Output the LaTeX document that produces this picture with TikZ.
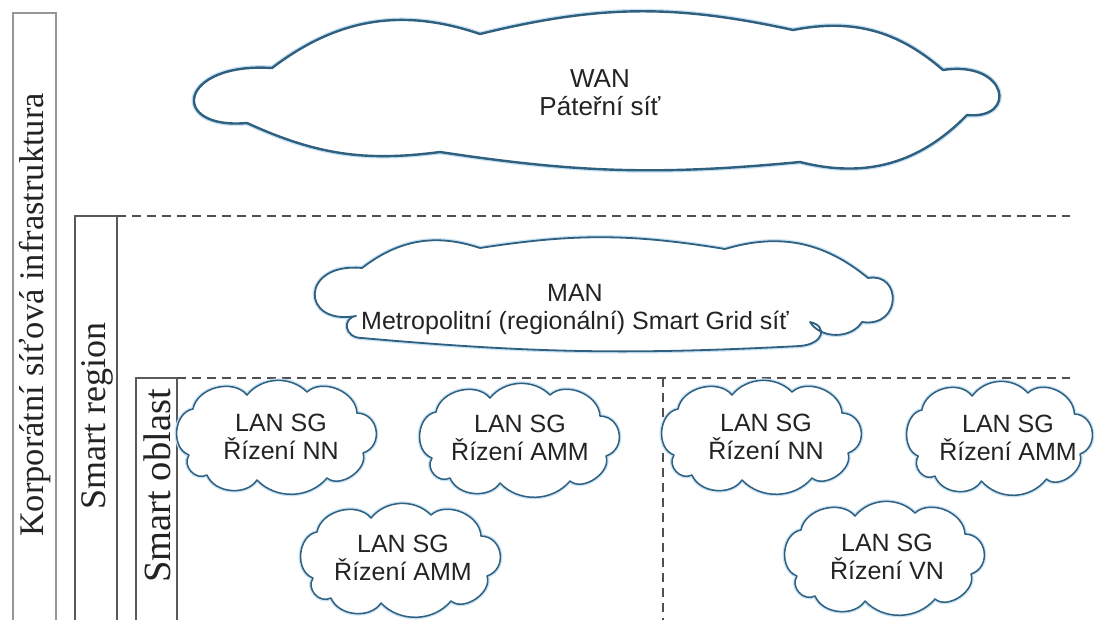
\documentclass[tikz,border=0pt]{standalone}
\usepackage{fontspec}
\setmainfont{Liberation Serif}
\newfontfamily\cloudfont{Liberation Sans}
\definecolor{cloudblue}{RGB}{48,96,128}
\definecolor{cloudhalo}{RGB}{200,226,244}
\definecolor{framegray}{RGB}{150,150,150}
\definecolor{boxgray}{RGB}{90,90,90}
\definecolor{dashgray}{RGB}{80,80,80}
\definecolor{textdark}{RGB}{35,35,35}
\tikzset{
  cloudedge/.style={draw=cloudblue, line width=#1, fill=white, line join=round,
    preaction={draw=cloudhalo, line width=#1+2.5pt}},
  cloudedge/.default=1.5pt,
  cloudtext/.style={font=\cloudfont\fontsize{25}{28}\selectfont, align=center,
    text=textdark, inner sep=0pt},
  sidelabel/.style={rotate=90, inner sep=0pt, text=textdark},
  levelline/.style={draw=dashgray, line width=1.2pt, dash pattern=on 9pt off 6pt},
  framebox/.style={draw=boxgray, line width=1.1pt},
}
% small LAN cloud centred at (#1,#2), stretched horizontally by #3
\newcommand\lancloud[3]{%
  \draw[cloudedge, shift={(#1,#2)}, xscale=#3]
    (-88,18) to[bend left=75, looseness=1.1] (-84,-28)
    to[bend left=65] (-30,-42)
    to[bend left=48] (30,-45)
    to[bend left=65] (80,-24)
    to[bend left=80, looseness=1.4] (86,16)
    to[bend left=75] (50,41)
    to[bend left=48] (-20,43)
    to[bend left=62] (-70,38)
    to[bend left=75, looseness=1.25] (-88,18) -- cycle;}
\begin{document}
\begin{tikzpicture}[x=1pt, y=-1pt]
\useasboundingbox (0,0) rectangle (1097,619);

% nested frames of the infrastructure levels
\draw[draw=framegray, line width=1.1pt] (13,625) -- (13,13) -- (56,13) -- (56,625);
\draw[framebox] (75,625) -- (75,216) -- (117,216) -- (117,625);
\draw[framebox] (136,625) -- (136,378) -- (177,378) -- (177,625);

\node[sidelabel, font=\fontsize{34.5}{36}\selectfont] (corp) at (35,315) {Korporátní síťová infrastruktura};
\node[sidelabel, font=\fontsize{36}{38}\selectfont] (region) at (97,416) {Smart region};
\node[sidelabel, font=\fontsize{38.5}{40}\selectfont] (oblast) at (157,486) {Smart oblast};

% level separators
\draw[levelline] (117,216) -- (1070,216);
\draw[levelline] (177,378) -- (1070,378);
\draw[levelline] (663,378) -- (663,625);

% WAN backbone cloud
\draw[cloudedge=2.4pt, shift={(598,90)}]
  (-326,-22) to[bend left=28] (-118,-56)
  to[bend left=13] (195,-60)
  to[bend left=26] (345,-20)
  .. controls (410,-30) and (420,30) .. (369,25)
  to[bend left=30] (202,72)
  to[bend left=7] (-158,62)
  to[bend left=16] (-351,33)
  .. controls (-430,40) and (-420,-28) .. (-326,-22) -- cycle;
\node[cloudtext, font=\cloudfont\fontsize{26}{28}\selectfont] (wan) at (600,93) {WAN\\Páteřní síť};

% MAN regional cloud
\draw[cloudedge=1.8pt]
  (356,316) .. controls (300,326) and (300,262) .. (362,268)
  to[bend left=28] (480,248)
  to[bend left=9] (725,249)
  to[bend left=28] (868,278)
  .. controls (902,272) and (902,328) .. (862,322)
  to[bend left=58] (810,322)
  .. controls (828,326) and (824,344) .. (800,346)
  to[bend left=4] (362,338)
  .. controls (344,338) and (342,318) .. (356,316) -- cycle;
\node[cloudtext] (man) at (575,309) {MAN\\Metropolitní (regionální) Smart Grid síť};

% LAN clouds of the two smart areas
\lancloud{277}{437}{1}
\lancloud{520}{440}{1}
\lancloud{401}{560}{1}
\lancloud{762}{437}{1}
\lancloud{1000}{438}{0.93}
\lancloud{885}{558}{1}

\node[cloudtext] (lan1) at (281,437) {LAN SG\\Řízení NN};
\node[cloudtext] (lan2) at (520,438) {LAN SG\\Řízení AMM};
\node[cloudtext] (lan3) at (403,558) {LAN SG\\Řízení AMM};
\node[cloudtext] (lan4) at (766,437) {LAN SG\\Řízení NN};
\node[cloudtext] (lan5) at (1008,438) {LAN SG\\Řízení AMM};
\node[cloudtext] (lan6) at (887,557) {LAN SG\\Řízení VN};
\end{tikzpicture}
\end{document}
